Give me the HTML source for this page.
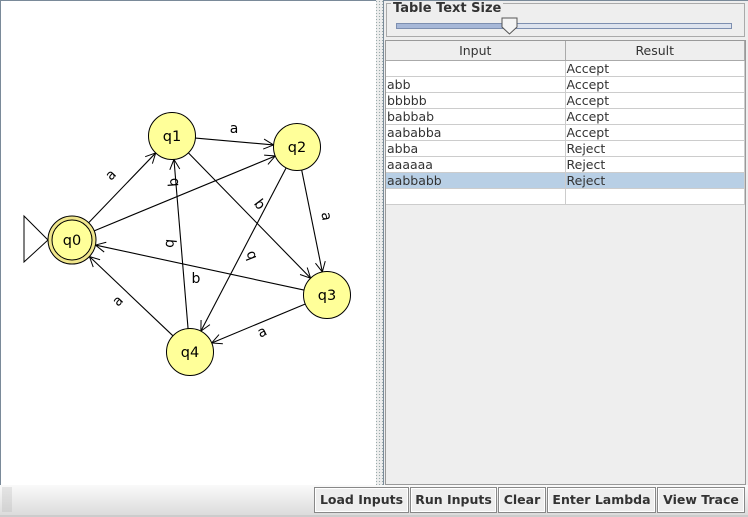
<!DOCTYPE html>
<html><head><meta charset="utf-8"><style>
*{margin:0;padding:0;box-sizing:border-box}
body{width:748px;height:517px;overflow:hidden;background:#eeeeee;font-family:"DejaVu Sans","Liberation Sans",sans-serif;position:relative}
#left{position:absolute;left:0;top:0;width:376px;height:485px;background:#fff;border-top:1px solid #7a8a99;border-left:1px solid #7a8a99}
#div{position:absolute;left:376px;top:0;width:8px;height:485px;background:#eee;background-image:radial-gradient(#9aa 0.7px,transparent 0.8px);background-size:3px 3px;background-position:2px 0}
#right{position:absolute;left:383px;top:0;width:365px;height:485px;background:#eee;border-left:1px solid #7a8a99;border-top:1px solid #7a8a99}
fieldset{position:absolute;left:2px;top:2px;width:359px;height:34px;border:1px solid #aaa;}
.lg{position:absolute;left:7px;top:0px;font-size:13px;font-weight:bold;color:#333;background:#eee;padding:0 2px}
.track{position:absolute;left:12px;top:22px;width:336px;height:6px;border:1px solid #7d8fb0;background:#dde3ee}
.track .fill{position:absolute;left:0;top:0;height:4px;width:115px;background:#a7b8d8}
.thumb{position:absolute;left:117px;top:16px}
#tbl{position:absolute;left:1px;top:39px;width:361px;height:445px;border:1px solid #999;background:#eee}
table{border-collapse:collapse;width:359px;font-size:12.5px;color:#333;table-layout:fixed}
th{height:19px;font-weight:normal;background:#eee;border-right:1px solid #aaa;border-bottom:1px solid #aaa;font-size:12.5px}
td{height:16px;background:#fff;border-right:1px solid #ccc;border-bottom:1px solid #ccc;padding-left:1px;line-height:15px;white-space:nowrap}
tr.sel td{background:#b8cfe5}
#bot{position:absolute;left:0;top:485px;width:748px;height:32px;background:linear-gradient(#fafafa,#dcdcdc);border-bottom:2px solid #ccc}
.grip{position:absolute;left:2px;top:2px;width:10px;height:25px;background-image:radial-gradient(#aaa 0.5px,transparent 0.6px);background-size:2px 2px}
.btn{position:absolute;top:2px;height:26px;border:1px solid #888;background:#eee;font-size:12.5px;font-weight:bold;color:#333;text-align:center;line-height:24px;box-shadow:inset 0 0 0 1px #fff}
</style></head><body>
<div id="left">
<svg id="g" width="376" height="485" style="position:absolute;left:-1px;top:-1px" font-family="DejaVu Sans, Liberation Sans, sans-serif">
<defs><marker id="ar" markerWidth="12" markerHeight="12" refX="11" refY="6" orient="auto" markerUnits="userSpaceOnUse"><path d="M1,1 L11,6 L1,11" fill="none" stroke="#000" stroke-width="1"/></marker></defs>
<g id="edges" stroke="#000" stroke-width="1.1" fill="none"></g>
<polygon points="48,240 24,216 24,262" fill="#fff" stroke="#000" stroke-width="1"/>
<g fill="#ffff99" stroke="#000" stroke-width="1">
<circle cx="72" cy="240" r="24" fill="#f0e68c"/>
<circle cx="72" cy="240" r="20"/>
<circle cx="172" cy="136" r="23.5"/>
<circle cx="297" cy="147" r="23.5"/>
<circle cx="327" cy="295" r="23.5"/>
<circle cx="190" cy="352" r="23.5"/>
</g>
<g font-size="14.5" text-anchor="middle" fill="#000">
<text x="72" y="245">q0</text><text x="172" y="141">q1</text><text x="297" y="152">q2</text><text x="327" y="300">q3</text><text x="190" y="357">q4</text>
</g>
<g font-size="14" text-anchor="middle" fill="#000">
<text transform="translate(114,178) rotate(-46)">a</text>
<text x="234" y="133">a</text>
<text transform="translate(178,182) rotate(-95)">b</text>
<text transform="translate(256,207) rotate(53)">b</text>
<text transform="translate(322,217) rotate(81)">a</text>
<text transform="translate(255,254) rotate(-112)">b</text>
<text transform="translate(166,243) rotate(95)">b</text>
<text x="196" y="283">b</text>
<text transform="translate(121,304) rotate(-46)">a</text>
<text transform="translate(264,336) rotate(-25)">a</text>
</g>
</svg>
</div>
<div id="div"></div>
<div id="right">
<fieldset></fieldset>
<div class="lg">Table Text Size</div>
<div class="track"><div class="fill"></div></div>
<svg class="thumb" width="18" height="18"><path d="M1,1 H16 V10 L8.5,17 L1,10 Z" fill="#f4f4f4" stroke="#555"/></svg>
<div id="tbl"><table>
<tr><th style="width:179px">Input</th><th>Result</th></tr>
<tr><td></td><td>Accept</td></tr>
<tr><td>abb</td><td>Accept</td></tr>
<tr><td>bbbbb</td><td>Accept</td></tr>
<tr><td>babbab</td><td>Accept</td></tr>
<tr><td>aababba</td><td>Accept</td></tr>
<tr><td>abba</td><td>Reject</td></tr>
<tr><td>aaaaaa</td><td>Reject</td></tr>
<tr class="sel"><td>aabbabb</td><td>Reject</td></tr>
<tr><td></td><td></td></tr>
</table></div>
</div>
<div id="bot"><div class="grip"></div>
<div class="btn" style="left:314px;width:95px">Load Inputs</div>
<div class="btn" style="left:410px;width:87px">Run Inputs</div>
<div class="btn" style="left:498px;width:48px">Clear</div>
<div class="btn" style="left:547px;width:109px">Enter Lambda</div>
<div class="btn" style="left:657px;width:88px">View Trace</div>
</div>
<script>
var N={0:[72,240,24],1:[172,136,23.5],2:[297,147,23.5],3:[327,295,23.5],4:[190,352,23.5]};
var E=[[0,1],[0,2],[1,2],[1,3],[2,3],[2,4],[3,0],[3,4],[4,0],[4,1]];
var g=document.getElementById('edges'),s='';
E.forEach(function(e){var a=N[e[0]],b=N[e[1]];var dx=b[0]-a[0],dy=b[1]-a[1],L=Math.hypot(dx,dy);dx/=L;dy/=L;
s+='<line x1="'+(a[0]+dx*a[2])+'" y1="'+(a[1]+dy*a[2])+'" x2="'+(b[0]-dx*b[2])+'" y2="'+(b[1]-dy*b[2])+'" marker-end="url(#ar)"/>';});
g.innerHTML=s;
</script>
</body></html>
